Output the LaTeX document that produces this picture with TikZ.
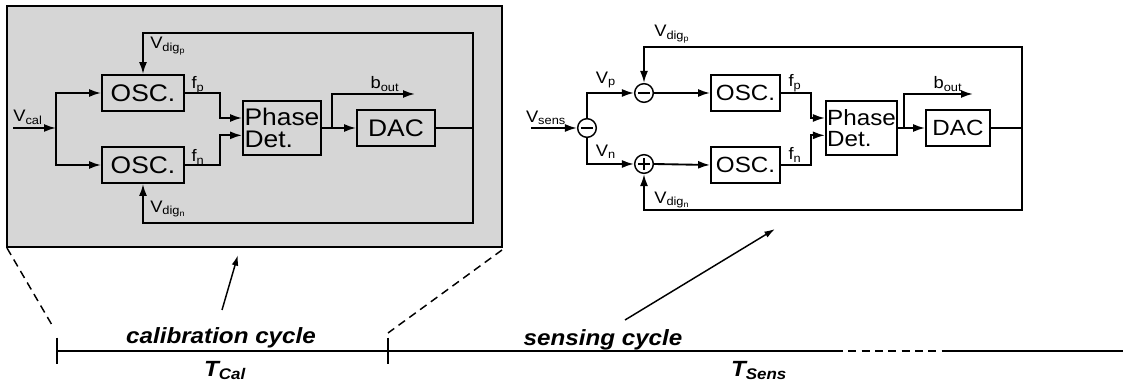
\documentclass[tikz,border=0pt]{standalone}
\usepackage{fontspec}
\setmainfont{Liberation Sans}[FakeStretch=1.1]
\usetikzlibrary{arrows.meta}
\definecolor{panelgray}{RGB}{214,214,214}
\newcommand{\sbs}[1]{\textsubscript{#1}}
\tikzset{
  wire/.style={line width=1.4pt},
  sig/.style={wire, -{Latex[length=9pt,width=6pt]}},
  blk/.style={draw, line width=1.4pt, inner sep=1pt, align=left},
  blkL/.style={blk, font=\fontsize{18}{17}\selectfont},
  blkR/.style={blk, font=\fontsize{16.5}{16}\selectfont},
  lbl/.style={inner sep=0pt, font=\fontsize{12.5}{14}\selectfont},
  sumnode/.style={draw, circle, line width=1.1pt, minimum size=14pt, inner sep=0pt},
  summinus/.style={sumnode, path picture={
      \draw[line width=1.3pt] ([xshift=-4.5pt]path picture bounding box.center) -- ([xshift=4.5pt]path picture bounding box.center);}},
  sumplus/.style={sumnode, path picture={
      \draw[line width=1.3pt] ([xshift=-4.5pt]path picture bounding box.center) -- ([xshift=4.5pt]path picture bounding box.center);
      \draw[line width=1.3pt] ([yshift=-4.5pt]path picture bounding box.center) -- ([yshift=4.5pt]path picture bounding box.center);}},
  cycletxt/.style={inner sep=0pt, font=\fontsize{16.5}{18}\selectfont\bfseries\itshape},
  pointer/.style={line width=1.1pt, -{Latex[length=8pt,width=5pt]}},
  zoomline/.style={line width=1.1pt, dash pattern=on 6pt off 4pt},
}
\begin{document}
\begin{tikzpicture}[x=0.75pt, y=-0.75pt]
\useasboundingbox (0,0) rectangle (1123,384);

% calibration panel
\draw[line width=1.8pt, fill=panelgray] (7,6) rectangle (502,247);
\coordinate (calSW) at (7,248);
\coordinate (calSE) at (502,250);

\node[blkL, minimum width=61.5pt, minimum height=27pt] (oscPL) at (143,93) {OSC.};
\node[blkL, minimum width=61.5pt, minimum height=27pt] (oscNL) at (143,165) {OSC.};
\node[blkL, minimum width=58.5pt, minimum height=40.5pt] (pdL) at (282,128) {Phase\\Det.};
\node[blkL, minimum width=58.5pt, minimum height=27pt] (dacL) at (396,128) {DAC};

\coordinate (inL) at (13,128);
\coordinate (splitL) at (56,128);
\coordinate (fpL) at (220,93);
\coordinate (fnL) at (220,165);
\coordinate (brL) at (332,128);
\coordinate (boutL) at (415,94);
\coordinate (loopL) at (473,128);
\coordinate (topL) at (143,33);
\coordinate (botL) at (143,223);

\draw[sig] (inL) -- (splitL);
\draw[sig] (splitL) |- (oscPL.west);
\draw[sig] (splitL) |- (oscNL.west);
\draw[sig] (oscPL.east) -- (fpL) |- ([yshift=7.5pt]pdL.west);
\draw[sig] (oscNL.east) -- (fnL) |- ([yshift=-5.5pt]pdL.west);
\draw[sig] (pdL.east) -- (dacL.west);
\draw[sig] (brL) |- (boutL);
\draw[wire] (dacL.east) -- (loopL);
\draw[sig] (loopL) |- (topL) -- (oscPL.north);
\draw[sig] (loopL) |- (botL) -- (oscNL.south);

\node[lbl] (vcal) at (28,117) {V\sbs{cal}};
\node[lbl] (fpLl) at (198,85) {f\sbs{p}};
\node[lbl] (fnLl) at (198,157) {f\sbs{n}};
\node[lbl] (boutLl) at (385,84) {b\sbs{out}};
\node[lbl, anchor=west] (vdpL) at (150,46) {V\sbs{dig\sbs{p}}};
\node[lbl, anchor=west] (vdnL) at (150,209) {V\sbs{dig\sbs{n}}};

% sensing panel
\node[summinus] (sum1) at (587,128) {};
\node[summinus] (sum2) at (644,93) {};
\node[sumplus] (sum3) at (644,164) {};
\node[blkR, minimum width=51.75pt, minimum height=27pt] (oscPR) at (745.5,93) {OSC.};
\node[blkR, minimum width=51.75pt, minimum height=27pt] (oscNR) at (745.5,165) {OSC.};
\node[blkR, minimum width=48.75pt, minimum height=41pt] (pdR) at (861.5,128) {Phase\\Det.};
\node[blkR, minimum width=48pt, minimum height=27pt] (dacR) at (958,128) {DAC};

\coordinate (inR) at (531,128);
\coordinate (vpR) at (587,93);
\coordinate (vnR) at (587,164);
\coordinate (fpR) at (811,93);
\coordinate (fnR) at (811,165);
\coordinate (brR) at (904,128);
\coordinate (boutR) at (973,94);
\coordinate (loopR) at (1022,128);
\coordinate (topR) at (644,47);
\coordinate (botR) at (644,210);

\draw[sig] (inR) -- (sum1.west);
\draw[sig] (sum1.north) -- (vpR) -- (sum2.west);
\draw[sig] (sum1.south) -- (vnR) -- (sum3.west);
\draw[sig] (sum2.east) -- (oscPR.west);
\draw[sig] (sum3.east) -- (oscNR.west);
\draw[sig] (oscPR.east) -- (fpR) |- ([yshift=7.5pt]pdR.west);
\draw[sig] (oscNR.east) -- (fnR) |- ([yshift=-5.5pt]pdR.west);
\draw[sig] (pdR.east) -- (dacR.west);
\draw[sig] (brR) |- (boutR);
\draw[wire] (dacR.east) -- (loopR);
\draw[sig] (loopR) |- (topR) -- (sum2.north);
\draw[sig] (loopR) |- (botR) -- (sum3.south);

\node[lbl] (vsens) at (546,118) {V\sbs{sens}};
\node[lbl] (vpRl) at (606,80) {V\sbs{p}};
\node[lbl] (vnRl) at (606,152) {V\sbs{n}};
\node[lbl] (fpRl) at (795,83) {f\sbs{p}};
\node[lbl] (fnRl) at (795,155) {f\sbs{n}};
\node[lbl] (boutRl) at (948,84) {b\sbs{out}};
\node[lbl, anchor=west] (vdpR) at (654,34) {V\sbs{dig\sbs{p}}};
\node[lbl, anchor=west] (vdnR) at (654,200) {V\sbs{dig\sbs{n}}};

% time line
\coordinate (t0) at (57,351);
\coordinate (tc) at (388,351);
\coordinate (td1) at (835,351);
\coordinate (td2) at (945,351);
\coordinate (tend) at (1123,351);
\draw[line width=1.3pt] (t0) -- (td1);
\draw[line width=1.3pt, dash pattern=on 6pt off 4pt] (td1) -- (td2);
\draw[line width=1.3pt] (td2) -- (tend);
\draw[line width=1.1pt] ([yshift=10pt]t0) -- ([yshift=-10pt]t0);
\draw[line width=1.1pt] ([yshift=10pt]tc) -- ([yshift=-10pt]tc);

\coordinate (zoomL) at (52,325);
\coordinate (zoomR) at (388,333);
\draw[zoomline] (calSW) -- (zoomL);
\draw[zoomline] (calSE) -- (zoomR);

\node[cycletxt, anchor=base] (calc) at (221,343) {calibration cycle};
\node[cycletxt, anchor=base] (sensc) at (603,345) {sensing cycle};
\node[cycletxt, anchor=base] (tcal) at (225,376) {T\sbs{Cal}};
\node[cycletxt, anchor=base] (tsens) at (759,376) {T\sbs{Sens}};

\coordinate (calTail) at (222,310);
\coordinate (calHead) at (238,255);
\coordinate (senTail) at (625,320);
\coordinate (senHead) at (775,229);
\draw[pointer] (calTail) -- (calHead);
\draw[pointer] (senTail) -- (senHead);
\end{tikzpicture}
\end{document}
